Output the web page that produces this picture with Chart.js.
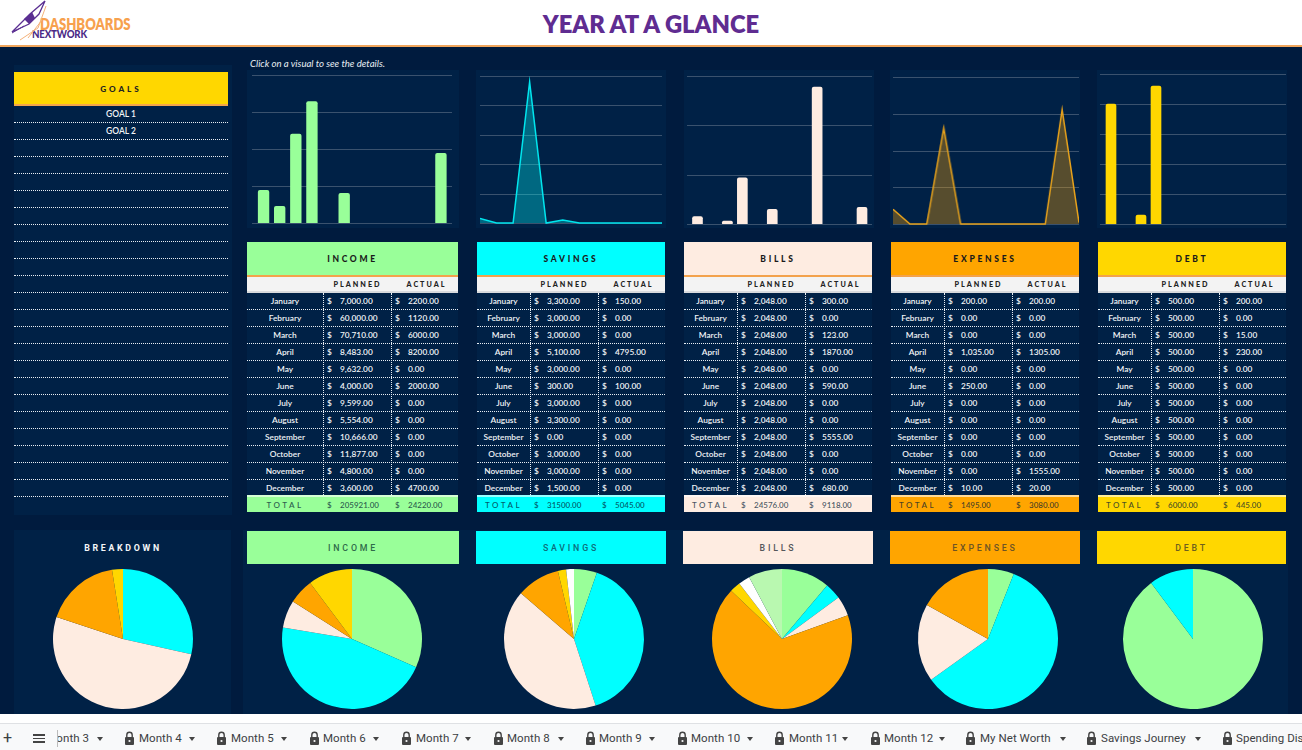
<!DOCTYPE html>
<html><head><meta charset="utf-8">
<script src="https://cdn.jsdelivr.net/npm/chart.js@4"></script>
<style>
html,body{margin:0;padding:0;width:1302px;height:750px;overflow:hidden;background:#fff;font-family:Lato,sans-serif}
.a{position:absolute;white-space:nowrap;box-sizing:border-box}
canvas{position:absolute;display:block}
</style></head><body>
<script>
const months=['January','February','March','April','May','June','July','August','September','October','November','December'];
const incomePlanned=[7000,60000,70710,8483,9632,4000,9599,5554,10666,11877,4800,3600];
const incomeActual=[2200,1120,6000,8200,0,2000,0,0,0,0,0,4700];
const savingsPlanned=[3300,3000,3000,5100,3000,300,3000,3300,0,3000,3000,1500];
const savingsActual=[150,0,0,4795,0,100,0,0,0,0,0,0];
const billsPlanned=[2048,2048,2048,2048,2048,2048,2048,2048,2048,2048,2048,2048];
const billsActual=[300,0,123,1870,0,590,0,0,5555,0,0,680];
const expensesPlanned=[200,0,0,1035,0,250,0,0,0,0,0,10];
const expensesActual=[200,0,0,1305,0,0,0,0,0,0,1555,20];
const debtPlanned=[500,500,500,500,500,500,500,500,500,500,500,500];
const debtActual=[200,0,15,230,0,0,0,0,0,0,0,0];
const breakdownShares=[5045,9118,3080,445];
const incomeShares=[31.6,46.0,6.4,5.8,10.2];
const savingsShares=[5.3,39.7,41.3,10.0,1.9,1.8];
const billsShares=[11.2,3.8,4.6,67.9,2.5,2.7,7.8];
const expensesShares=[6.0,59.1,18.0,16.9];
const debtShares=[89.8,10.2];
const GREEN='#99ff99',CYAN='#00ffff',CREAM='#feece1',ORANGE='#ffa500',GOLD='#ffd700',WHITE='#ffffff',PALE='#b9f8b0';
const incomeColors=[GREEN,CYAN,CREAM,ORANGE,GOLD];
const savingsColors=[GREEN,CYAN,CREAM,ORANGE,GOLD,WHITE];
const billsColors=[GREEN,CYAN,CREAM,ORANGE,GOLD,WHITE,PALE];
const expensesColors=[GREEN,CYAN,CREAM,ORANGE];
const debtColors=[GREEN,CYAN];
const breakdownColors=[CYAN,CREAM,ORANGE,GOLD];
const tabNames=['Month 4','Month 5','Month 6','Month 7','Month 8','Month 9','Month 10','Month 11','Month 12','My Net Worth','Savings Journey','Spending Dis'];

const BG='#001b3e',PANEL='#002146';
function el(x,y,w,h,css,text){const d=document.createElement('div');d.className='a';
 d.style.cssText=`left:${x}px;top:${y}px;width:${w}px;height:${h}px;`+(css||'');if(text!==undefined)d.textContent=text;document.body.appendChild(d);return d;}
const centered=h=>`display:flex;align-items:center;justify-content:center;line-height:${h}px;`;

// frame
el(0,0,1302,45,'background:#fff');
el(0,45,1302,2,'background:#f1a65c');
el(0,47,1302,667,`background:${BG}`);
el(14,65,218,450,`background:${PANEL}`);
el(0,714,1302,36,'background:#fff');
el(0,723,1302,1,'background:#dfe1e4');
el(0,724,1302,26,'background:#f8f9fa');

// header
el(0,5.5,1302,36,'text-align:center;color:#5f2c91;font:800 23.8px/36px Lato,sans-serif','YEAR AT A GLANCE');
el(40,14,110,20,'color:#f7a14e;font:800 16.8px/20px Lato,sans-serif;transform:scaleX(.78);transform-origin:left center','DASHBOARDS');
el(32,27,80,14,'color:#4b2a86;font:900 11px/14px Lato,sans-serif;letter-spacing:-.2px;transform:scaleX(.88);transform-origin:left center','NEXTWORK');
const logo=document.createElementNS('http://www.w3.org/2000/svg','svg');
logo.setAttribute('width','50');logo.setAttribute('height','42');logo.style.cssText='position:absolute;left:8px;top:0';
logo.innerHTML='<path d="M4 32 L22 14 L37 1 L31 14 L21 24 Z" fill="none" stroke="#5b2f92" stroke-width="1.3"/><path d="M16 19 L24 12 L27 18 L21 24 Z" fill="#5b2f92"/><path d="M38 6 L30 28 L12 40 M34 20 L20 38" fill="none" stroke="#f5b27a" stroke-width="1"/><path d="M4 33 L16 26" stroke="#5b2f92" stroke-width="1"/>';
document.body.appendChild(logo);
el(250,58,250,12,'color:#e8edf2;font:italic 400 9.6px/12px Lato,sans-serif','Click on a visual to see the details.');

// goals
el(14,72,214,32,`background:${GOLD}`);
el(14,73,214,32,`${centered(32)}color:#222;font:900 8.2px/32px Lato,sans-serif;letter-spacing:2.9px`,'GOALS');
el(14,104,214,2,'background:#f5a54a');
const goalNames=['GOAL 1','GOAL 2'];
for(let i=0;i<23;i++){
 el(14,106+17*i,214,17,`border-bottom:1px dotted #e8eef4;${centered(17)}color:#f2f4f6;font:600 8.5px/17px Lato,sans-serif`,goalNames[i]||'');
}

// tables
const planFmt=v=>v.toLocaleString('en-US',{minimumFractionDigits:2,maximumFractionDigits:2});
const actFmt=v=>v.toFixed(2);
const sum=a=>a.reduce((p,c)=>p+c,0);
function table(t){
 const x=t.x,w=t.w,d1=t.d1,d2=t.d2;
 el(x,293,w,202,`background:${PANEL}`);
 el(x,242,w,33,`background:${t.color}`);
 el(x,243,w,33,`${centered(33)}color:#1a1a1a;font:900 8.5px/33px Lato,sans-serif;letter-spacing:2.7px`,t.name);
 el(x,275,w,2,'background:#f3a24c');
 el(x,277,w,16,'background:#f3f3f3;border-bottom:2px solid #d8dadd');
 const head=`${centered(13)}color:#222;font:900 7.2px/13px Lato,sans-serif;letter-spacing:2px;`;
 el(d1,278,d2-d1+1,13,head,'PLANNED');
 el(d2+2,278,x+w-d2,13,head,'ACTUAL');
 months.forEach((m,i)=>{
  const y=293+17*i;
  const line=i<11?'border-bottom:1px dotted #e8eef4;':'';
  el(x,y,w,17,line);
  const txt='color:#f1f4f7;font:600 8.3px/17px Lato,sans-serif;';
  el(x,y,d1-x,17,txt+'text-align:center',m);
  el(d1+4,y,10,17,txt,'$');
  el(d1+17,y,60,17,txt,planFmt(t.planned[i]));
  el(d2+4,y,10,17,txt,'$');
  el(d2+17,y,60,17,txt,actFmt(t.actual[i]));
 });
 el(d1,293,1,202,'border-left:1px dotted #e8eef4');
 el(d2,293,1,202,'border-left:1px dotted #e8eef4');
 el(x,495,w,17,`background:${t.color}`);
 el(x,495,w,1.5,'background:rgba(255,255,255,.6)');
 const tt='color:rgba(0,25,50,.72);font:600 8px/17px Lato,sans-serif;';
 el(x,496.5,d1-x,17,tt+'text-align:center;letter-spacing:2.5px','TOTAL');
 el(d1+4,496.5,10,17,tt,'$');
 el(d1+17,496.5,60,17,tt,actFmt(sum(t.planned)));
 el(d2+4,496.5,10,17,tt,'$');
 el(d2+17,496.5,60,17,tt,actFmt(sum(t.actual)));
}
const tables=[
 {name:'INCOME',color:GREEN,x:247,w:211,d1:323,d2:391,planned:incomePlanned,actual:incomeActual},
 {name:'SAVINGS',color:CYAN,x:477,w:188,d1:530,d2:598,planned:savingsPlanned,actual:savingsActual},
 {name:'BILLS',color:CREAM,x:684,w:188,d1:737,d2:805,planned:billsPlanned,actual:billsActual},
 {name:'EXPENSES',color:ORANGE,x:891,w:188,d1:944,d2:1012,planned:expensesPlanned,actual:expensesActual},
 {name:'DEBT',color:GOLD,x:1098,w:188,d1:1151,d2:1219,planned:debtPlanned,actual:debtActual}];
tables.forEach(table);

// panels behind the small charts
[[247,212],[476,190],[684,190],[890,190],[1097,190]].forEach(p=>el(p[0],70,p[1],158,`background:${PANEL}`));

// gridlines that run a little past the bars
const wideGrid={id:'wideGrid',beforeDatasetsDraw(c,_,o){
 const s=c.scales.y,ctx=c.ctx;ctx.save();ctx.strokeStyle='#3a526e';ctx.lineWidth=1;
 s.ticks.forEach(t=>{const y=Math.round(s.getPixelForValue(t.value))+.5;
  ctx.beginPath();ctx.moveTo(o.left,y);ctx.lineTo(o.right,y);ctx.stroke();});
 ctx.restore();}};
function cv(x,y,w,h){const c=document.createElement('canvas');c.width=w;c.height=h;c.style.left=x+'px';c.style.top=y+'px';c.style.width=w+'px';c.style.height=h+'px';document.body.appendChild(c);return c;}
function small(o){
 const pad=8,gl=o.gridL,gr=o.gridR,W=gr-gl,H=o.bottom-o.top;
 const c=cv(gl,o.top-pad,W,H+2*pad);
 const inL=o.type==='bar'?o.bandL-gl:0,inR=o.type==='bar'?gr-o.bandR:0;
 const ds=o.type==='bar'
  ?{data:o.data,backgroundColor:ctx=>ctx.raw>0?o.color:'transparent',barThickness:o.bar,borderRadius:2,borderSkipped:'start'}
  :{data:o.data,borderColor:o.line,backgroundColor:o.fill,fill:'origin',borderWidth:1.5,pointRadius:0,tension:0,clip:false};
 new Chart(c,{type:o.type,data:{labels:months,datasets:[ds]},plugins:[wideGrid],options:{
  responsive:false,animation:false,devicePixelRatio:1,events:[],
  layout:{padding:{left:inL,right:inR,top:pad,bottom:pad}},
  plugins:{legend:{display:false},tooltip:{enabled:false},wideGrid:{left:0,right:W}},
  scales:{x:{display:false},
   y:{display:true,min:0,max:o.max,ticks:{display:false,stepSize:o.step},grid:{display:false,drawTicks:false},border:{display:false}}}}});
}
small({type:'bar',data:incomeActual,color:GREEN,gridL:252,gridR:452,bandL:255.5,bandR:449,top:75,bottom:223,max:10000,step:2500,bar:10.7});
small({type:'line',data:savingsActual,line:'#00e6ee',fill:'rgba(0,255,255,.32)',gridL:480,gridR:662,top:76,bottom:223,max:5000,step:1000});
small({type:'bar',data:billsActual,color:CREAM,gridL:687,gridR:872,bandL:690,bandR:869.5,top:76,bottom:224,max:6000,step:2000,bar:10});
small({type:'line',data:expensesActual,line:'#e6a21c',fill:'rgba(255,165,0,.34)',gridL:893,gridR:1078.5,top:77,bottom:224,max:2000,step:500});
small({type:'bar',data:debtActual,color:GOLD,gridL:1100,gridR:1286,bandL:1103.5,bandR:1283.5,top:74,bottom:224,max:250,step:50,bar:10});

// pie row
el(14,530,217,184,`background:${PANEL}`);
el(243,530,1045,184,`background:${PANEL}`);
const pieHeads=[['INCOME',GREEN,247,212,'#2f6b4a'],['SAVINGS',CYAN,476,190,'#0d6d7a'],['BILLS',CREAM,683,190,'#55565a'],['EXPENSES',ORANGE,890,190,'#6d5425'],['DEBT',GOLD,1097,189,'#6d5f1e']];
pieHeads.forEach(h=>{el(h[2],531,h[3],33,`background:${h[1]}`);
 el(h[2],532,h[3],33,`${centered(33)}color:${h[4]};font:500 8.8px/33px Roboto,sans-serif;letter-spacing:2.8px`,h[0]);});
el(14,532,218,33,`${centered(33)}color:#f4f6f8;font:700 8.8px/33px Roboto,sans-serif;letter-spacing:2.7px`,'BREAKDOWN');

function pie(cx,data,colors){
 const R=70,p=2,S=2*(R+p),c=cv(cx-R-p,639-R-p,S,S);
 new Chart(c,{type:'pie',data:{labels:data.map((_,i)=>String(i+1)),datasets:[{data,backgroundColor:colors,borderWidth:0}]},options:{
  responsive:false,animation:false,devicePixelRatio:1,events:[],layout:{padding:p},
  plugins:{legend:{display:false},tooltip:{enabled:false}}}});
}
pie(123,breakdownShares,breakdownColors);
pie(352,incomeShares,incomeColors);
pie(574,savingsShares,savingsColors);
pie(782,billsShares,billsColors);
pie(987.5,expensesShares,expensesColors);
pie(1193,debtShares,debtColors);

// sheet tabs
const tabCss='color:#3c4043;font:400 11.5px/16px Roboto,sans-serif;letter-spacing:.05px;';
el(3,730,12,16,'color:#3c4043;font:400 16px/16px Roboto,sans-serif','+');
el(33,734,12,1.5,'background:#444');el(33,737.5,12,1.5,'background:#444');el(33,741,12,1.5,'background:#444');
el(57,730,1,17,'background:#bbb');
el(58,730,31,16,tabCss+'overflow:hidden;display:flex;justify-content:flex-end','Month 3');
function caret(x){el(x-3,737,7,4,'width:0;height:0;border-left:3.5px solid transparent;border-right:3.5px solid transparent;border-top:4px solid #444');}
function lock(x){const s=document.createElementNS('http://www.w3.org/2000/svg','svg');s.setAttribute('width','11');s.setAttribute('height','14');
 s.style.cssText=`position:absolute;left:${x}px;top:731px`;
 s.innerHTML='<path d="M2.8 6V4a2.7 2.7 0 0 1 5.4 0v2" fill="none" stroke="#444" stroke-width="1.4"/><rect x="1" y="6" width="9" height="8" rx="1" fill="#444"/><circle cx="5.5" cy="10" r="1.1" fill="#f8f9fa"/>';document.body.appendChild(s);}
caret(100);
const lockX=[124,216,309,401,493,585,677,774,870,965,1086,1222];
const textX=[139,231,323,416,507,599,691,789,884,980,1101,1236];
const caretX=[192,284,376,468,561,652,750,845,942,1063,1198];
tabNames.forEach((n,i)=>{lock(lockX[i]);el(textX[i],730,i===11?66:110,16,tabCss+'overflow:hidden',n);if(caretX[i])caret(caretX[i]);});
</script>
</body></html>
